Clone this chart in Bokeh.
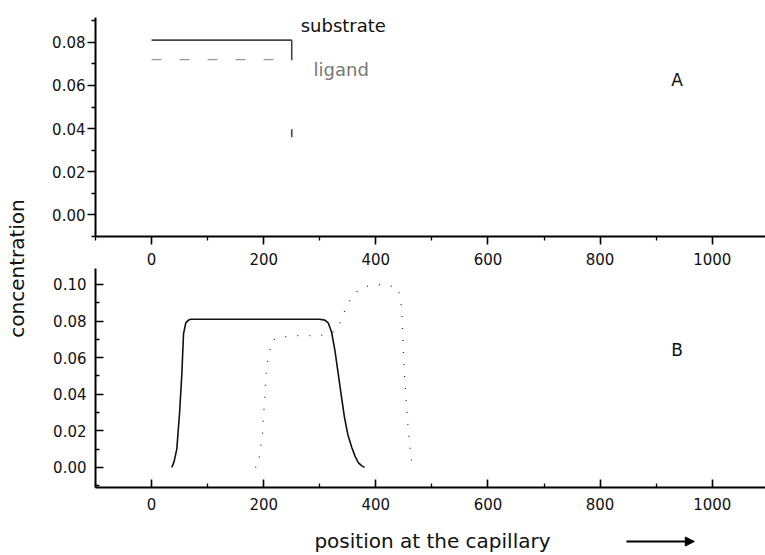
import math
from bokeh.plotting import figure
from bokeh.layouts import row, column
from bokeh.models import FixedTicker, PrintfTickFormatter, Label, Arrow, NormalHead, Range1d
from bokeh.embed import file_html
from bokeh.resources import INLINE

# ---------------- data ----------------
x_ticks = [0, 200, 400, 600, 800, 1000]
x_minor = [-100, 100, 300, 500, 700, 900]
a_y_ticks = [0.0, 0.02, 0.04, 0.06, 0.08]
a_y_minor = [-0.01, 0.01, 0.03, 0.05, 0.07, 0.09]
b_y_ticks = [0.0, 0.02, 0.04, 0.06, 0.08, 0.10]
b_y_minor = [-0.01, 0.01, 0.03, 0.05, 0.07, 0.09]

# Panel A (initial state)
a_sub_x = [0, 250, 250]
a_sub_y = [0.081, 0.081, 0.0]
a_lig_x = [0, 250]
a_lig_y = [0.072, 0.072]

# Panel B (after separation)
b_sub_x = [36, 40, 45, 50, 54, 57, 61, 66, 70, 300, 309, 315, 321, 327, 333, 339,
           344, 350, 357, 363, 369, 375, 380]
b_sub_y = [0.0, 0.003, 0.01, 0.03, 0.051, 0.073, 0.079, 0.0805, 0.081, 0.081, 0.0805,
           0.079, 0.074, 0.064, 0.051, 0.038, 0.0275, 0.018, 0.011, 0.006, 0.0025,
           0.0008, 0.0]
b_lig_x = [185, 190, 198, 205, 214, 225, 260, 300, 319, 332, 336, 349, 362, 377, 400,
           420, 440, 446, 451, 458, 465]
b_lig_y = [0.0, 0.0005, 0.019, 0.0546, 0.069, 0.071, 0.072, 0.072, 0.073, 0.076, 0.079,
           0.089, 0.095, 0.0985, 0.1, 0.0995, 0.098, 0.0875, 0.0508, 0.02, 0.0]

# arrow below the x axis (direction of migration)
arrow_x = [847, 968]

FONT = "DejaVu Sans"
XR = (-100, 1095)


def style_axes(p, inward, y_ticks, y_minor, y_standoff, x_standoff):
    p.outline_line_color = None
    p.xgrid.visible = False
    p.ygrid.visible = False
    for ax in (p.xaxis[0], p.yaxis[0]):
        ax.axis_line_width = 2
        ax.axis_line_color = "black"
        ax.major_tick_line_width = 1.6
        ax.minor_tick_line_width = 1.3
        ax.major_tick_line_color = "black"
        ax.minor_tick_line_color = "black"
        ax.major_label_text_font = FONT
        ax.major_label_text_font_size = "15px"
        ax.major_label_text_color = "#111111"
        if inward:
            ax.major_tick_in = 8
            ax.major_tick_out = 0
            ax.minor_tick_in = 4
            ax.minor_tick_out = 0
        else:
            ax.major_tick_in = 0
            ax.major_tick_out = 8
            ax.minor_tick_in = 0
            ax.minor_tick_out = 4
    p.xaxis[0].ticker = FixedTicker(ticks=x_ticks, minor_ticks=x_minor)
    p.xaxis[0].formatter = PrintfTickFormatter(format="%d")
    p.xaxis[0].major_label_standoff = x_standoff
    p.yaxis[0].ticker = FixedTicker(ticks=y_ticks, minor_ticks=y_minor)
    p.yaxis[0].formatter = PrintfTickFormatter(format="%.2f")
    p.yaxis[0].major_label_standoff = y_standoff


# ---------------- y label strip ----------------
pl = figure(width=40, height=555, x_range=Range1d(0, 40), y_range=Range1d(0, 555),
            x_axis_location=None, y_axis_location=None, output_backend="svg",
            toolbar_location=None, min_border=0)
pl.outline_line_color = None
pl.xgrid.visible = False
pl.ygrid.visible = False
pl.add_layout(Label(x=16, y=555 - 268, text="concentration", angle=90, angle_units="deg",
                    text_align="center", text_baseline="middle", text_font=FONT,
                    text_font_size="20px", text_color="#111111"))

# ---------------- panel A ----------------
pa = figure(width=725, height=268, x_range=Range1d(*XR), y_range=Range1d(-0.01, 0.0915),
            output_backend="svg", toolbar_location=None,
            min_border_left=55, min_border_right=0, min_border_top=17, min_border_bottom=32)
style_axes(pa, False, a_y_ticks, a_y_minor, 2, 8)
pa.line(a_sub_x[:2], a_sub_y[:2], line_color="#444444", line_width=1.6)
pa.line(a_sub_x[1:], a_sub_y[1:], line_color="#444444", line_width=1.6, line_dash="20 69 8 400")
pa.line(a_lig_x, a_lig_y, line_color="#999999", line_width=1.2, line_dash="10 18")
pa.add_layout(Label(x=266, y=0.0878, text="substrate", text_font=FONT, text_font_size="18px",
                    text_baseline="alphabetic", text_color="#111111"))
pa.add_layout(Label(x=289, y=0.0674, text="ligand", text_font=FONT, text_font_size="18px",
                    text_baseline="alphabetic", text_color="#777777"))
pa.add_layout(Label(x=927, y=0.0627, text="A", text_font=FONT, text_font_size="17px",
                    text_baseline="alphabetic", text_color="#111111"))

# ---------------- panel B ----------------
pb = figure(width=725, height=249, x_range=Range1d(*XR), y_range=Range1d(-0.011, 0.1087),
            output_backend="svg", toolbar_location=None,
            min_border_left=55, min_border_right=0, min_border_top=0, min_border_bottom=30)
style_axes(pb, True, b_y_ticks, b_y_minor, 9, 10)
pb.line(b_sub_x, b_sub_y, line_color="#111111", line_width=1.6)
pb.line(b_lig_x, b_lig_y, line_color="#333333", line_width=1.3, line_dash="1 11")
pb.add_layout(Label(x=927, y=0.0639, text="B", text_font=FONT, text_font_size="17px",
                    text_baseline="alphabetic", text_color="#111111"))

# ---------------- bottom strip: axis title and arrow ----------------
pt = figure(width=725, height=38, x_range=Range1d(*XR), y_range=Range1d(0, 38),
            x_axis_location=None, y_axis_location=None, output_backend="svg",
            toolbar_location=None, min_border_left=55, min_border_right=0,
            min_border_top=0, min_border_bottom=0)
pt.outline_line_color = None
pt.xgrid.visible = False
pt.ygrid.visible = False
pt.add_layout(Label(x=501, y=15, text="position at the capillary", text_align="center",
                    text_baseline="middle", text_font=FONT, text_font_size="20px",
                    text_color="#111111"))
pt.add_layout(Arrow(end=NormalHead(size=9, fill_color="black", line_color="black"),
                    x_start=arrow_x[0], y_start=14, x_end=arrow_x[1], y_end=14,
                    line_width=2, line_color="black"))

layout = row(pl, column(pa, pb, pt))
open("out.html", "w").write(file_html(layout, INLINE))
